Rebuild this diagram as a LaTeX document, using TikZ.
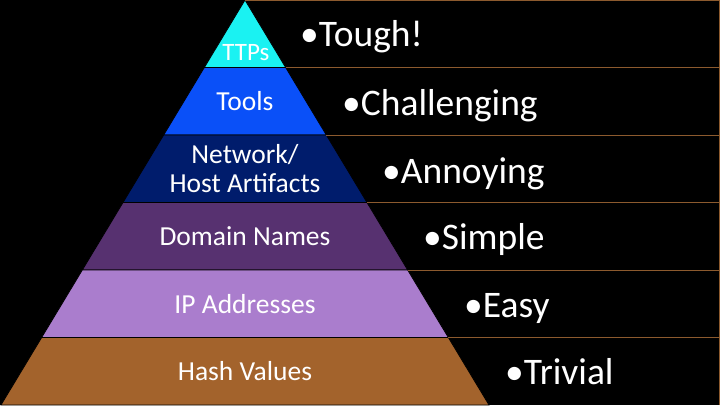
\documentclass[tikz,border=0pt]{standalone}
\usepackage{fontspec}
\setmainfont{Carlito}
\definecolor{ttpc}{HTML}{1AF2F2}
\definecolor{toolc}{HTML}{0A50F8}
\definecolor{netc}{HTML}{001C6C}
\definecolor{domc}{HTML}{573170}
\definecolor{ipc}{HTML}{AA7DCD}
\definecolor{hashc}{HTML}{A3632C}
\definecolor{rulec}{HTML}{8C5A2E}
\tikzset{
  layer/.style={draw=black, line width=0.8pt},
  rowbox/.style={draw=rulec, line width=1pt},
  tier/.style={text=white, inner sep=0pt, font=\fontsize{27.5}{29}\selectfont},
  cost/.style={text=white, inner sep=0pt, anchor=base west, font=\fontsize{37.5}{40}\selectfont}
}
\begin{document}
\begin{tikzpicture}[x=1pt,y=-1pt]
  \fill[black] (0,0) rectangle (720,405);
  \useasboundingbox (0,0) rectangle (720,405);
  % pyramid edges: x = 245 -/+ 0.6025 y
  \foreach \ya/\yb/\c in {0/67.5/ttpc, 67.5/135/toolc, 135/202.5/netc,
                           202.5/270/domc, 270/337.5/ipc, 337.5/405/hashc}{
    \fill[\c, layer] ({245-0.6025*\ya},\ya) -- ({245+0.6025*\ya},\ya)
      -- ({245+0.6025*\yb},\yb) -- ({245-0.6025*\yb},\yb) -- cycle;
    \draw[rowbox] ({245+0.6025*\ya},\ya) -- (719.5,\ya) -- (719.5,\yb);
  }
  % tier labels
  \node[tier, anchor=base, font=\fontsize{25}{28}\selectfont] (ttp) at (246,60) {TTPs};
  \node[tier, anchor=base] (tools) at (245,110.5) {Tools};
  \node[tier, anchor=center, align=center] (net) at (245,169) {Network/\\Host Artifacts};
  \node[tier, anchor=base] (dom) at (245,245) {Domain Names};
  \node[tier, anchor=base] (ip) at (245,313) {IP Addresses};
  \node[tier, anchor=base] (hash) at (245,380) {Hash Values};
  % difficulty labels
  \node[cost] (tough) at (300,46) {•Tough!};
  \node[cost] (chal) at (342,115) {•Challenging};
  \node[cost] (ann) at (382,183) {•Annoying};
  \node[cost] (simp) at (423,249) {•Simple};
  \node[cost] (easy) at (464,317) {•Easy};
  \node[cost] (triv) at (505,384) {•Trivial};
\end{tikzpicture}
\end{document}
